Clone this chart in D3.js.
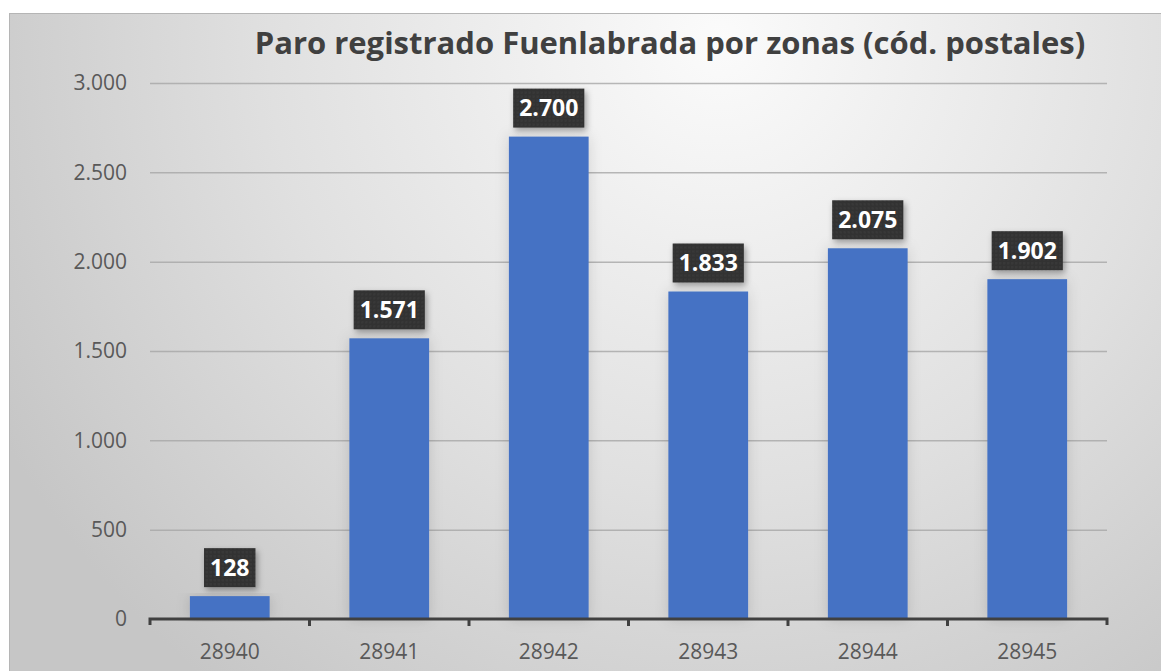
<!DOCTYPE html>
<html>
<head>
<meta charset="utf-8">
<script src="https://cdn.jsdelivr.net/npm/d3@7"></script>
<style>
  body { margin: 0; background: #fff; }
  svg { display: block; }
</style>
</head>
<body>
<svg id="chart" width="1161" height="671"></svg>
<script>
const codigos = ["28940", "28941", "28942", "28943", "28944", "28945"];
const parados = [128, 1571, 2700, 1833, 2075, 1902];
const yTicks = [0, 500, 1000, 1500, 2000, 2500, 3000];
const titulo = "Paro registrado Fuenlabrada por zonas (cód. postales)";

const width = 1161, height = 671;
const margin = { left: 150, right: 54, top: 83, bottom: 52 };
const fmt = d3.formatLocale({ decimal: ",", thousands: ".", grouping: [3], currency: ["", "€"] }).format(",d");

const svg = d3.select("#chart");
const defs = svg.append("defs");

const bg = defs.append("radialGradient")
  .attr("id", "bg")
  .attr("gradientUnits", "userSpaceOnUse")
  .attr("cx", 720).attr("cy", 40).attr("r", 820);
bg.append("stop").attr("offset", "0").attr("stop-color", "#fbfbfb");
bg.append("stop").attr("offset", "0.55").attr("stop-color", "#e0e0e0");
bg.append("stop").attr("offset", "1").attr("stop-color", "#c6c6c6");

const pat = defs.append("pattern")
  .attr("id", "dots")
  .attr("width", 4).attr("height", 4)
  .attr("patternUnits", "userSpaceOnUse");
pat.append("rect").attr("width", 4).attr("height", 4).attr("fill", "#333");
pat.append("circle").attr("cx", 1).attr("cy", 1).attr("r", 0.7).attr("fill", "#444");

const shadow = defs.append("filter").attr("id", "shadow")
  .attr("x", "-30%").attr("y", "-30%").attr("width", "160%").attr("height", "160%");
shadow.append("feDropShadow")
  .attr("dx", 2).attr("dy", 3).attr("stdDeviation", 3)
  .attr("flood-color", "#000").attr("flood-opacity", 0.35);

const barShadow = defs.append("filter").attr("id", "barShadow")
  .attr("x", "-40%").attr("y", "-10%").attr("width", "180%").attr("height", "120%");
barShadow.append("feDropShadow")
  .attr("dx", 0).attr("dy", 0).attr("stdDeviation", 7)
  .attr("flood-color", "#000").attr("flood-opacity", 0.14);

// frame
svg.append("rect")
  .attr("x", 9.5).attr("y", 13.5)
  .attr("width", width).attr("height", height)
  .attr("fill", "url(#bg)")
  .attr("stroke", "#b5b5b5");

const x = d3.scaleBand()
  .domain(codigos)
  .range([margin.left, width - margin.right])
  .paddingInner(0.5)
  .paddingOuter(0.25);

const xOuter = d3.scaleBand()
  .domain(codigos)
  .range([margin.left, width - margin.right]);

const y = d3.scaleLinear()
  .domain([0, 3000])
  .range([height - margin.bottom, margin.top]);

// title
svg.append("text")
  .attr("x", 670).attr("y", 54)
  .attr("text-anchor", "middle")
  .attr("font-family", "Open Sans, sans-serif")
  .attr("font-weight", 700)
  .attr("font-size", 31)
  .attr("fill", "#404040")
  .text(titulo);

// y axis (grid)
const yAxis = svg.append("g")
  .attr("transform", `translate(${margin.left},0)`)
  .call(d3.axisLeft(y).tickValues(yTicks).tickFormat(fmt)
    .tickSize(-(width - margin.left - margin.right)).tickPadding(23))
  .call(g => g.select(".domain").remove());
yAxis.selectAll(".tick line")
  .attr("stroke", d => d === 0 ? "none" : "#a6a6a6")
  .attr("stroke-opacity", 0.8)
  .attr("stroke-width", 1.5);
yAxis.selectAll(".tick text")
  .attr("font-family", "Open Sans, sans-serif")
  .attr("font-size", 21)
  .attr("fill", "#595959");

// bars
svg.append("g")
  .selectAll("rect")
  .data(parados)
  .join("rect")
  .attr("x", (d, i) => x(codigos[i]))
  .attr("y", d => y(d))
  .attr("width", x.bandwidth())
  .attr("height", d => y(0) - y(d))
  .attr("fill", "#4472c4")
  .attr("filter", "url(#barShadow)");

// x axis
const xAxis = svg.append("g")
  .attr("transform", `translate(0,${y(0)})`)
  .call(d3.axisBottom(xOuter).tickSize(0).tickPadding(25));
xAxis.select(".domain")
  .attr("stroke", "#404040")
  .attr("stroke-width", 3)
  .attr("d", `M${margin.left},6V0H${width - margin.right}V6`);
xAxis.selectAll(".tick text")
  .attr("font-family", "Open Sans, sans-serif")
  .attr("font-size", 21)
  .attr("fill", "#595959");
xAxis.append("g")
  .selectAll("line")
  .data(codigos.slice(1))
  .join("line")
  .attr("x1", d => xOuter(d)).attr("x2", d => xOuter(d))
  .attr("y1", 0).attr("y2", 7)
  .attr("stroke", "#404040")
  .attr("stroke-width", 3);

// data labels
const labels = svg.append("g")
  .selectAll("g")
  .data(parados)
  .join("g")
  .attr("transform", (d, i) => `translate(${x(codigos[i]) + x.bandwidth() / 2},${y(d) - 29})`);

labels.append("text")
  .attr("class", "lbl")
  .attr("text-anchor", "middle")
  .attr("dy", "0.38em")
  .attr("font-family", "Open Sans, sans-serif")
  .attr("font-weight", 700)
  .attr("font-size", 23)
  .attr("fill", "#fff")
  .text(d => fmt(d));

labels.each(function () {
  const g = d3.select(this);
  const bb = g.select("text").node().getBBox();
  g.insert("rect", "text")
    .attr("x", bb.x - 6).attr("y", -19)
    .attr("width", bb.width + 12).attr("height", 39)
    .attr("fill", "url(#dots)")
    .attr("filter", "url(#shadow)");
});
</script>
</body>
</html>
